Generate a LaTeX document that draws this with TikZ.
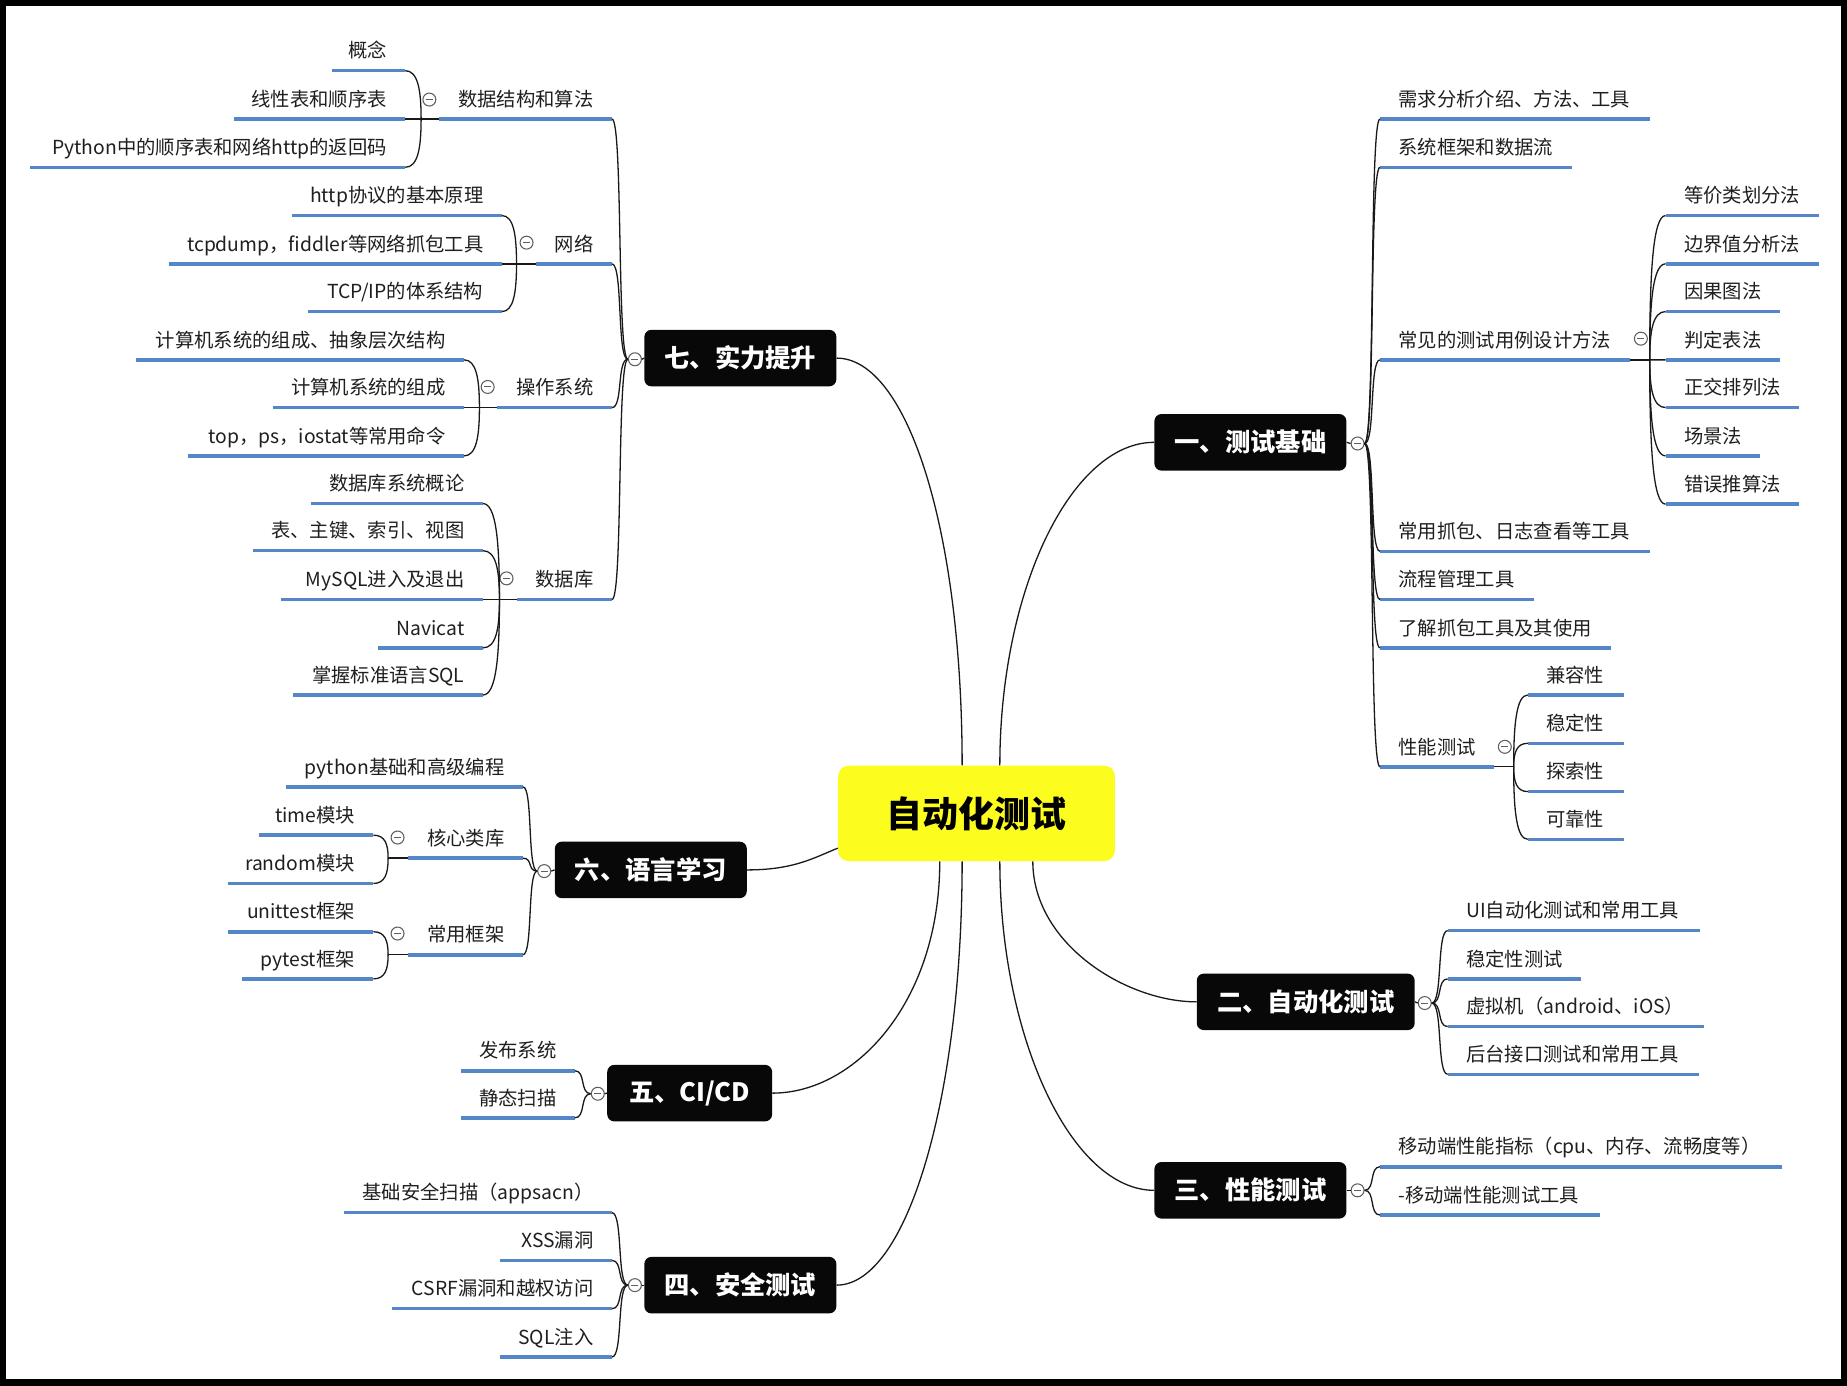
\documentclass[tikz,border=0pt]{standalone}
\usepackage{fontspec}
\setmainfont{Noto Sans CJK SC}
\usetikzlibrary{calc}
\definecolor{ulblue}{RGB}{84,134,200}
\definecolor{rootyellow}{RGB}{252,252,30}
\definecolor{boxblack}{RGB}{8,8,8}
\definecolor{colgray}{RGB}{95,95,95}
\newcommand\txL[2]{\makebox[\dimexpr #1pt-31pt\relax][l]{#2}}
\newcommand\txR[2]{\makebox[\dimexpr #1pt-31pt\relax][r]{#2}}
\begin{document}
\begin{tikzpicture}[x=1pt,y=-1pt,
  conn/.style={draw=black!90, line width=1.1pt},
  ul/.style={draw=ulblue, line width=3pt},
  leaf/.style={font=\fontsize{16.4}{19.7}\selectfont, text=black!88, inner xsep=15.5pt, inner ysep=0pt,
    text height=14pt, text depth=10.7pt,
    append after command={(\tikzlastnode.south west) edge[ul] (\tikzlastnode.south east)}},
  rl/.style={leaf, anchor=south west},
  lf/.style={leaf, anchor=south east},
  topic/.style={fill=boxblack, text=white, rounded corners=6pt, font=\bfseries\fontsize{21.5}{26}\selectfont,
    minimum height=48pt, inner sep=0pt},
  root/.style={fill=rootyellow, text=black, rounded corners=9pt, font=\bfseries\fontsize{30.5}{36}\selectfont,
    minimum width=235pt, minimum height=81pt, inner sep=0pt},
  col/.style={circle, draw=colgray, fill=white, line width=0.9pt, minimum size=11pt, inner sep=0pt,
    path picture={\draw[colgray, line width=0.8pt] ([xshift=-3pt]path picture bounding box.center) -- ([xshift=3pt]path picture bounding box.center);}},
  brc/.style={to path={.. controls ($(\tikztostart)!0.7!(\tikztostart -| \tikztotarget)$) and ($(\tikztotarget)!0.7!(\tikztotarget -| \tikztostart)$) .. (\tikztotarget)}},
  brv/.style={to path={.. controls ($(\tikztostart)!0.6!(\tikztostart |- \tikztotarget)$) and ($(\tikztotarget)!0.8!(\tikztotarget -| \tikztostart)$) .. (\tikztotarget)}}
]
\useasboundingbox (0,0) rectangle (1568,1176);
\fill[white] (0,0) rectangle (1568,1176);
\draw[black, line width=10pt] (0,0) rectangle (1568,1176);

% ---------- root and topics ----------
\node[root] (root) at (829,690.5) {自动化测试};
\node[topic, minimum width=163pt] (t1) at (1061.5,375.5) {一、测试基础};
\node[topic, minimum width=185pt] (t2) at (1108.5,850.5) {二、自动化测试};
\node[topic, minimum width=163pt] (t3) at (1061.5,1010.5) {三、性能测试};
\node[topic, minimum width=163pt] (t4) at (628.5,1091) {四、安全测试};
\node[topic, minimum width=140pt] (t5) at (585.5,928) {五、CI/CD};
\node[topic, minimum width=163pt] (t6) at (552.5,738.5) {六、语言学习};
\node[topic, minimum width=163pt] (t7) at (628.5,304) {七、实力提升};

\coordinate (rt7) at ($(root.north west)+(105.5,0)$);
\coordinate (rt1) at ($(root.north west)+(137.5,0)$);
\coordinate (rl6) at ($(root.west)+(0,29.5)$);
\coordinate (rb5) at ($(root.south west)+(86.5,0)$);
\coordinate (rb4) at ($(root.south west)+(105.5,0)$);
\coordinate (rb3) at ($(root.south west)+(137.5,0)$);
\coordinate (rb2) at ($(root.south west)+(165.5,0)$);

\draw[conn] (rt7) .. controls +(0,-200) and +(60,0) .. (t7.east);
\draw[conn] (rt1) .. controls +(0,-150) and +(-70,0) .. (t1.west);
\draw[conn] (t6.east) .. controls +(40,0) and +(-20,8) .. (rl6);
\draw[conn] (rb5) .. controls +(0,120) and +(70,0) .. (t5.east);
\draw[conn] (rb4) .. controls +(0,200) and +(60,0) .. (t4.east);
\draw[conn] (rb2) .. controls +(0,70) and +(-60,0) .. (t2.west);
\draw[conn] (rb3) .. controls +(0,150) and +(-70,0) .. (t3.west);

% ---------- collapse circles of topics ----------
\node[col] (c1) at (1152.5,376.5) {};
\node[col] (c2) at (1209.5,851.5) {};
\node[col] (c3) at (1152.5,1010.5) {};
\node[col] (c4) at (539,1091) {};
\node[col] (c5) at (507.5,928.5) {};
\node[col] (c6) at (462,739.5) {};
\node[col] (c7) at (539,305) {};
\draw[conn] (t1.east) -- (c1.west);
\draw[conn] (t2.east) -- (c2.west);
\draw[conn] (t3.east) -- (c3.west);
\draw[conn] (t4.west) -- (c4.east);
\draw[conn] (t5.west) -- (c5.east);
\draw[conn] (t6.west) -- (c6.east);
\draw[conn] (t7.west) -- (c7.east);

% ---------- 一、测试基础 ----------
\node[rl] (a1) at (1171.5,101) {\txL{229}{需求分析介绍、方法、工具}};
\node[rl] (a2) at (1171.5,142) {\txL{162.5}{系统框架和数据流}};
\node[rl] (a3) at (1171.5,305.5) {\txL{212}{常见的测试用例设计方法}};
\node[rl] (a4) at (1171.5,468) {\txL{229}{常用抓包、日志查看等工具}};
\node[rl] (a5) at (1171.5,509) {\txL{130}{流程管理工具}};
\node[rl] (a6) at (1171.5,550) {\txL{196}{了解抓包工具及其使用}};
\node[rl] (a7) at (1171.5,651) {\txL{96}{性能测试}};
\foreach \n in {a1,a2,a3,a4,a5,a6,a7} \draw[conn] (c1.east) to[brc] (\n.south west);

\node[rl] (b1) at (1414,183) {\txL{130}{等价类划分法}};
\node[rl] (b2) at (1414,224) {\txL{130}{边界值分析法}};
\node[rl] (b3) at (1414,264.5) {\txL{97}{因果图法}};
\node[rl] (b4) at (1414,305.5) {\txL{97}{判定表法}};
\node[rl] (b5) at (1414,346) {\txL{113}{正交排列法}};
\node[rl] (b6) at (1414,387) {\txL{80}{场景法}};
\node[rl] (b7) at (1414,428) {\txL{113}{错误推算法}};
\node[col] (ca3) at (1393,287.5) {};
\coordinate (fa3) at (1400.5,305.5);
\draw[conn] (a3.south east) -- (fa3);
\foreach \n in {b1,b2,b3,b4,b5,b6,b7} \draw[conn] (fa3) to[brv] (\n.south west);

\node[rl] (p1) at (1297,590) {\txL{81}{兼容性}};
\node[rl] (p2) at (1297,631) {\txL{81}{稳定性}};
\node[rl] (p3) at (1297,672) {\txL{81}{探索性}};
\node[rl] (p4) at (1297,712.5) {\txL{81}{可靠性}};
\node[col] (ca7) at (1277.5,634) {};
\coordinate (fa7) at (1285,651);
\draw[conn] (a7.south east) -- (fa7);
\foreach \n in {p1,p2,p3,p4} \draw[conn] (fa7) to[brv] (\n.south west);

% ---------- 二、自动化测试 ----------
\node[rl] (e1) at (1229,790) {\txL{214}{UI自动化测试和常用工具}};
\node[rl] (e2) at (1229,831) {\txL{113}{稳定性测试}};
\node[rl] (e3) at (1229,871.5) {\txL{217.5}{虚拟机（android、iOS）}};
\node[rl] (e4) at (1229,912) {\txL{213}{后台接口测试和常用工具}};
\foreach \n in {e1,e2,e3,e4} \draw[conn] (c2.east) to[brc] (\n.south west);

% ---------- 三、性能测试 ----------
\node[rl] (f1) at (1171.5,990.5) {\txL{340.5}{移动端性能指标（cpu、内存、流畅度等）}};
\node[rl] (f2) at (1171.5,1031.5) {\txL{186.5}{-移动端性能测试工具}};
\foreach \n in {f1,f2} \draw[conn] (c3.east) to[brc] (\n.south west);

% ---------- 七、实力提升 ----------
\node[lf] (g1) at (519.5,101) {\txR{146}{数据结构和算法}};
\node[lf] (g2) at (519.5,224) {\txR{64}{网络}};
\node[lf] (g3) at (519.5,346) {\txR{97}{操作系统}};
\node[lf] (g4) at (519.5,509) {\txR{80}{数据库}};
\foreach \n in {g1,g2,g3,g4} \draw[conn] (c7.west) to[brc] (\n.south east);

\node[lf] (h1) at (344,60) {\txR{62}{概念}};
\node[lf] (h2) at (344,101) {\txR{145}{线性表和顺序表}};
\node[lf] (h3) at (344,142) {\txR{318}{Python中的顺序表和网络http的返回码}};
\node[col] (cg1) at (364.5,84.5) {};
\coordinate (fg1) at (357.5,101);
\draw[conn] (g1.south west) -- (fg1);
\foreach \n in {h1,h2,h3} \draw[conn] (fg1) to[brv] (\n.south east);

\node[lf] (i1) at (426,183) {\txR{178}{http协议的基本原理}};
\node[lf] (i2) at (426,224) {\txR{282}{tcpdump，fiddler等网络抓包工具}};
\node[lf] (i3) at (426,264.5) {\txR{164}{TCP/IP的体系结构}};
\node[col] (cg2) at (447,206) {};
\coordinate (fg2) at (438.5,224);
\draw[conn] (g2.south west) -- (fg2);
\foreach \n in {i1,i2,i3} \draw[conn] (fg2) to[brv] (\n.south east);

\node[lf] (j1) at (394,305.5) {\txR{278}{计算机系统的组成、抽象层次结构}};
\node[lf] (j2) at (394,346) {\txR{162}{计算机系统的组成}};
\node[lf] (j3) at (394,387) {\txR{234}{top，ps，iostat等常用命令}};
\node[col] (cg3) at (414,328.5) {};
\coordinate (fg3) at (407,346);
\draw[conn] (g3.south west) -- (fg3);
\foreach \n in {j1,j2,j3} \draw[conn] (fg3) to[brv] (\n.south east);

\node[lf] (k1) at (410,427.5) {\txR{146}{数据库系统概论}};
\node[lf] (k2) at (410,467.5) {\txR{195}{表、主键、索引、视图}};
\node[lf] (k3) at (410,509) {\txR{171}{MySQL进入及退出}};
\node[lf] (k4) at (410,550) {\txR{89}{Navicat}};
\node[lf] (k5) at (410,590) {\txR{161}{掌握标准语言SQL}};
\node[col] (cg4) at (430,491) {};
\coordinate (fg4) at (424,509);
\draw[conn] (g4.south west) -- (fg4);
\foreach \n in {k1,k2,k3,k4,k5} \draw[conn] (fg4) to[brv] (\n.south east);

% ---------- 六、语言学习 ----------
\node[lf] (m1) at (444,668) {\txR{201}{python基础和高级编程}};
\node[lf] (m2) at (444,728.5) {\txR{97}{核心类库}};
\node[lf] (m3) at (444,810.5) {\txR{97}{常用框架}};
\foreach \n in {m1,m2,m3} \draw[conn] (c6.west) to[brc] (\n.south east);

\node[lf] (n1) at (317,709) {\txR{97}{time模块}};
\node[lf] (n2) at (317,750) {\txR{123}{random模块}};
\node[col] (cm2) at (337.5,711) {};
\coordinate (fm2) at (329.5,728.5);
\draw[conn] (m2.south west) -- (fm2);
\foreach \n in {n1,n2} \draw[conn] (fm2) to[brv] (\n.south east);

\node[lf] (n3) at (317,791) {\txR{123}{unittest框架}};
\node[lf] (n4) at (317,831) {\txR{111}{pytest框架}};
\node[col] (cm3) at (337.5,792.5) {};
\coordinate (fm3) at (329.5,810.5);
\draw[conn] (m3.south west) -- (fm3);
\foreach \n in {n3,n4} \draw[conn] (fm3) to[brv] (\n.south east);

% ---------- 五、CI/CD ----------
\node[lf] (q1) at (488,909) {\txR{96}{发布系统}};
\node[lf] (q2) at (488,949) {\txR{96}{静态扫描}};
\foreach \n in {q1,q2} \draw[conn] (c5.west) to[brc] (\n.south east);

% ---------- 四、安全测试 ----------
\node[lf] (s1) at (519.5,1029.5) {\txR{227}{基础安全扫描（appsacn）}};
\node[lf] (s2) at (519.5,1070) {\txR{95}{XSS漏洞}};
\node[lf] (s3) at (519.5,1111) {\txR{186}{CSRF漏洞和越权访问}};
\node[lf] (s4) at (519.5,1152) {\txR{95}{SQL注入}};
\foreach \n in {s1,s2,s3,s4} \draw[conn] (c4.west) to[brc] (\n.south east);
\end{tikzpicture}
\end{document}
